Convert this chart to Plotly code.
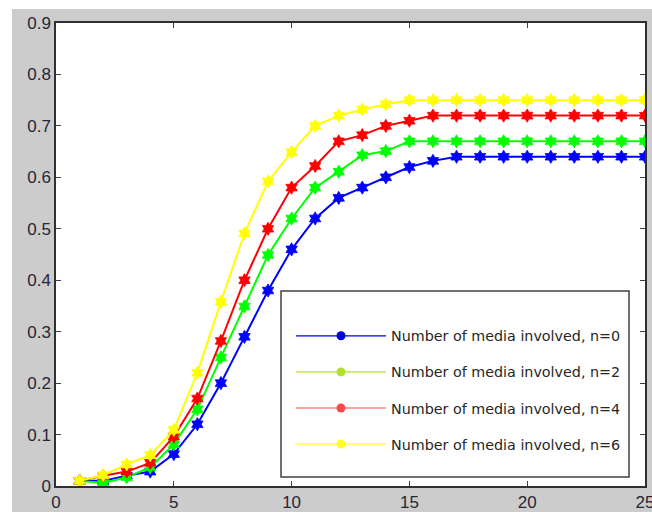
import plotly.graph_objects as go

x_vals = list(range(1, 26))
n0 = [0.01, 0.01, 0.02, 0.028, 0.062, 0.12, 0.20, 0.29, 0.38, 0.46, 0.52, 0.56, 0.58, 0.60, 0.62, 0.632,
      0.64, 0.64, 0.64, 0.64, 0.64, 0.64, 0.64, 0.64, 0.64]
n2 = [0.01, 0.006, 0.017, 0.036, 0.081, 0.149, 0.25, 0.349, 0.449, 0.52, 0.58, 0.611, 0.643, 0.651, 0.67, 0.67,
      0.67, 0.67, 0.67, 0.67, 0.67, 0.67, 0.67, 0.67, 0.67]
n4 = [0.01, 0.02, 0.028, 0.045, 0.096, 0.17, 0.282, 0.40, 0.50, 0.58, 0.622, 0.67, 0.682, 0.70, 0.71, 0.72,
      0.72, 0.72, 0.72, 0.72, 0.72, 0.72, 0.72, 0.72, 0.72]
n6 = [0.01, 0.021, 0.042, 0.06, 0.109, 0.22, 0.358, 0.491, 0.592, 0.649, 0.70, 0.72, 0.732, 0.742, 0.75, 0.75,
      0.75, 0.75, 0.75, 0.75, 0.75, 0.75, 0.75, 0.75, 0.75]

series = [
    ("Number of media involved, n=0", n0, "#0000ff", "#0000e0"),
    ("Number of media involved, n=2", n2, "#00ff00", "#b0e030"),
    ("Number of media involved, n=4", n4, "#ff0000", "#ff4848"),
    ("Number of media involved, n=6", n6, "#ffff00", "#ffff20"),
]

W, H = 652, 512
L, R, T, B = 56, 7, 23, 26
pw, ph = W - L - R, H - T - B


def px2paper_x(px):
    return (px - L) / pw


def px2paper_y(py):
    return (H - B - py) / ph


fig = go.Figure()
for name, vals, col, _ in series:
    fig.add_trace(go.Scatter(
        x=x_vals, y=vals, mode="lines+markers", name=name, showlegend=False,
        line=dict(color=col, width=2),
        marker=dict(symbol="hexagram", size=10, color=col, line=dict(width=0.8, color=col)),
    ))
for i, (name, vals, _, lcol) in enumerate(series):
    fig.add_trace(go.Scatter(
        x=[None], y=[None], mode="lines+markers", name=name, legendgroup=f"g{i}",
        line=dict(color=lcol, width=1.2),
        marker=dict(symbol="circle", size=9, color=lcol),
    ))

axis_common = dict(
    showgrid=False, zeroline=False, showline=True, linecolor="#303030", linewidth=1.5,
    mirror="ticks", ticks="inside", ticklen=5, tickwidth=1.3, tickcolor="#404040",
    automargin=False, ticklabeloverflow="allow",
    tickfont=dict(family="Liberation Sans, Arial, sans-serif", size=17, color="#262636"),
)

fig.update_layout(
    width=W, height=H,
    margin=dict(l=L, r=R, t=T, b=B, pad=0),
    paper_bgcolor="#cccccc", plot_bgcolor="#ffffff",
    xaxis=dict(range=[0, 25], dtick=5, tick0=0, **axis_common),
    yaxis=dict(range=[0, 0.9], dtick=0.1, tick0=0, **axis_common),
    legend=dict(
        x=px2paper_x(291), y=px2paper_y(320), xanchor="left", yanchor="top",
        bgcolor="rgba(0,0,0,0)", borderwidth=0,
        font=dict(family="DejaVu Sans, sans-serif", size=14.3, color="#262626"),
        itemwidth=90, tracegroupgap=14.5,
    ),
    shapes=[
        dict(type="rect", xref="paper", yref="paper",
             x0=px2paper_x(281), x1=px2paper_x(629), y0=px2paper_y(477), y1=px2paper_y(291),
             fillcolor="#ffffff", line=dict(color="#404040", width=1.5), layer="above"),
        dict(type="rect", xref="paper", yref="paper",
             x0=px2paper_x(0), x1=px2paper_x(12), y0=px2paper_y(H), y1=px2paper_y(0),
             fillcolor="#ffffff", line=dict(width=0), layer="below"),
        dict(type="rect", xref="paper", yref="paper",
             x0=px2paper_x(0), x1=px2paper_x(W), y0=px2paper_y(9), y1=px2paper_y(0),
             fillcolor="#ffffff", line=dict(width=0), layer="below"),
    ],
)

fig.write_html(
    "out.html",
    config={"displayModeBar": False},
    post_script="document.body.style.margin='0';document.body.style.overflow='hidden';",
)
